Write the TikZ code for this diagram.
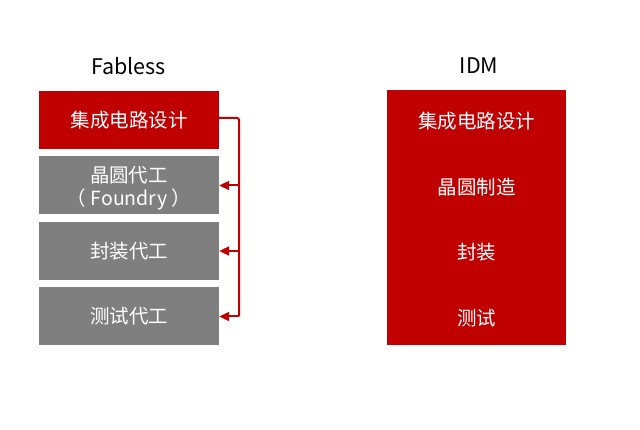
\documentclass[tikz,border=0pt]{standalone}
\usepackage{fontspec}
\setmainfont{Noto Sans CJK SC}
\usetikzlibrary{arrows.meta}
\definecolor{bred}{HTML}{C00000}
\definecolor{bgray}{HTML}{7F7F7F}
\tikzset{
  lbox/.style={rectangle, minimum width=180pt, minimum height=58pt, inner sep=0pt, text=white, font=\fontsize{19.5}{23.5}\selectfont, align=center},
  title/.style={font=\fontsize{21.5}{24}\selectfont, text=black},
  rtext/.style={text=white, font=\fontsize{19.5}{22}\selectfont},
  conn/.style={draw=bred, line width=2pt, -{Triangle[length=10pt,width=9pt]}}
}
\begin{document}
\begin{tikzpicture}[x=1pt,y=-1pt]
\useasboundingbox (0,0) rectangle (640,430);
\node[title] (tf) at (128.5,66) {Fabless};
\node[title] (ti) at (479,66) {IDM};
\node[lbox, fill=bred] (a) at (129,120) {集成电路设计};
\node[lbox, fill=bgray] (b) at (129,185.5) {};
\node[text=white, font=\fontsize{19.5}{23.5}\selectfont, align=center] (bt) at (129,188) {晶圆代工\\（ Foundry ）};
\node[lbox, fill=bgray] (c) at (129,251) {封装代工};
\node[lbox, fill=bgray] (d) at (129,316.5) {测试代工};
\node[rectangle, fill=bred, minimum width=179pt, minimum height=255pt, inner sep=0pt] (r) at (476.5,218) {};
\node[rtext] (r1) at (476.5,121) {集成电路设计};
\node[rtext] (r2) at (476.5,187) {晶圆制造};
\node[rtext] (r3) at (476.5,252) {封装};
\node[rtext] (r4) at (476.5,318) {测试};
\coordinate (top) at (239,118);
\coordinate (bot) at (239,316.5);
\draw[draw=bred, line width=2pt, rounded corners=2pt] ([yshift=2pt]a.east) -- (top) -- (bot);
\draw[conn] (239,185.5) -- (b.east);
\draw[conn] (239,251) -- (c.east);
\draw[conn] (bot) -- (d.east);
\end{tikzpicture}
\end{document}
